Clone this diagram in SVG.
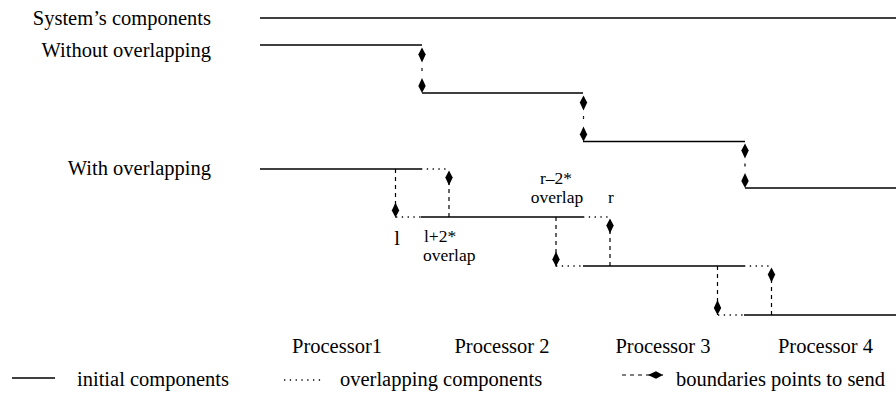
<svg xmlns="http://www.w3.org/2000/svg" width="896" height="394" viewBox="0 0 896 394">
  <style>
    text { font-family: "Liberation Serif", "Times New Roman", "DejaVu Serif", serif; font-size: 20.5px; fill: #000; }
    .small { font-size: 17.5px; }
    .solid { stroke: #000; stroke-width: 1.3; fill: none; }
    .dots { stroke: #000; stroke-width: 1.3; fill: none; stroke-dasharray: 1.3 4.5; }
    .dash { stroke: #000; stroke-width: 1.2; fill: none; stroke-dasharray: 4 4; marker-end: url(#kite); }
    .dash.short { stroke-dasharray: 1.5 40; }
  </style>
  <defs>
    <!-- filled kite arrowhead, tip at the end of the path -->
    <marker id="kite" viewBox="-16 -4 17 8" refX="0" refY="0" markerWidth="17" markerHeight="8" markerUnits="userSpaceOnUse" orient="auto" overflow="visible">
      <path d="M0,0 L-7,-3.7 L-15,0 L-7,3.7 Z" fill="#000" stroke="none"/>
    </marker>
  </defs>

  <!-- row titles -->
  <g id="titles">
    <text x="211" y="25" text-anchor="end">System’s components</text>
    <text x="211" y="57" text-anchor="end">Without overlapping</text>
    <text x="211" y="175" text-anchor="end">With overlapping</text>
  </g>

  <!-- whole system -->
  <g id="system">
    <line class="solid" x1="260" y1="18" x2="896" y2="18"/>
  </g>

  <!-- partition without overlapping -->
  <g id="without-overlap">
    <line class="solid" x1="260" y1="45" x2="422" y2="45"/>
    <line class="solid" x1="422" y1="93" x2="583" y2="93"/>
    <line class="solid" x1="583" y1="141.5" x2="745" y2="141.5"/>
    <line class="solid" x1="745" y1="188" x2="896" y2="188"/>
  </g>

  <!-- partition with overlapping -->
  <g id="with-overlap">
    <line class="solid" x1="260" y1="169" x2="421" y2="169"/>
    <line class="dots" x1="421" y1="169" x2="449" y2="169"/>
    <line class="dots" x1="396" y1="217" x2="421" y2="217"/>
    <line class="solid" x1="421" y1="217" x2="583" y2="217"/>
    <line class="dots" x1="583" y1="217" x2="610" y2="217"/>
    <line class="dots" x1="556" y1="266" x2="583" y2="266"/>
    <line class="solid" x1="583" y1="266" x2="744" y2="266"/>
    <line class="dots" x1="744" y1="266" x2="772" y2="266"/>
    <line class="dots" x1="718" y1="315" x2="744" y2="315"/>
    <line class="solid" x1="744" y1="315" x2="896" y2="315"/>
  </g>

  <!-- boundary points exchanged between neighbours -->
  <g id="connectors">
    <line class="dash short" x1="422" y1="69.5" x2="422" y2="47.5"/>
    <line class="dash short" x1="422" y1="69.5" x2="422" y2="93"/>
    <line class="dash short" x1="583.5" y1="117.5" x2="583.5" y2="95.5"/>
    <line class="dash short" x1="583.5" y1="117.5" x2="583.5" y2="141.5"/>
    <line class="dash short" x1="745" y1="165" x2="745" y2="143.5"/>
    <line class="dash short" x1="745" y1="165" x2="745" y2="188"/>

    <line class="dash" x1="395.5" y1="169" x2="395.5" y2="217.5"/>
    <line class="dash" x1="449" y1="217" x2="449" y2="170.5"/>
    <line class="dash" x1="556" y1="217" x2="556" y2="266.5"/>
    <line class="dash" x1="610" y1="266" x2="610" y2="218.5"/>
    <line class="dash" x1="717.5" y1="266" x2="717.5" y2="315"/>
    <line class="dash" x1="771.5" y1="315" x2="771.5" y2="267.5"/>
  </g>

  <!-- boundary labels -->
  <g id="bounds">
    <text x="397" y="245" text-anchor="middle">l</text>
    <text class="small" x="424" y="242">l+2*</text>
    <text class="small" x="423" y="261">overlap</text>
    <text class="small" x="556" y="184" text-anchor="middle">r–2*</text>
    <text class="small" x="557" y="203" text-anchor="middle">overlap</text>
    <text class="small" x="611" y="203" text-anchor="middle">r</text>
  </g>

  <!-- processor names -->
  <g id="processors">
    <text x="337" y="353" text-anchor="middle">Processor1</text>
    <text x="502" y="353" text-anchor="middle">Processor 2</text>
    <text x="663" y="353" text-anchor="middle">Processor 3</text>
    <text x="825.5" y="353" text-anchor="middle">Processor 4</text>
  </g>

  <!-- key -->
  <g id="legend">
    <line class="solid" x1="12" y1="378" x2="55" y2="378"/>
    <text x="77" y="386">initial components</text>
    <line class="dots" x1="284" y1="380" x2="323" y2="380"/>
    <text x="340" y="386">overlapping components</text>
    <line class="dash" x1="622" y1="375" x2="663" y2="375"/>
    <text x="676" y="386">boundaries points to send</text>
  </g>
</svg>
